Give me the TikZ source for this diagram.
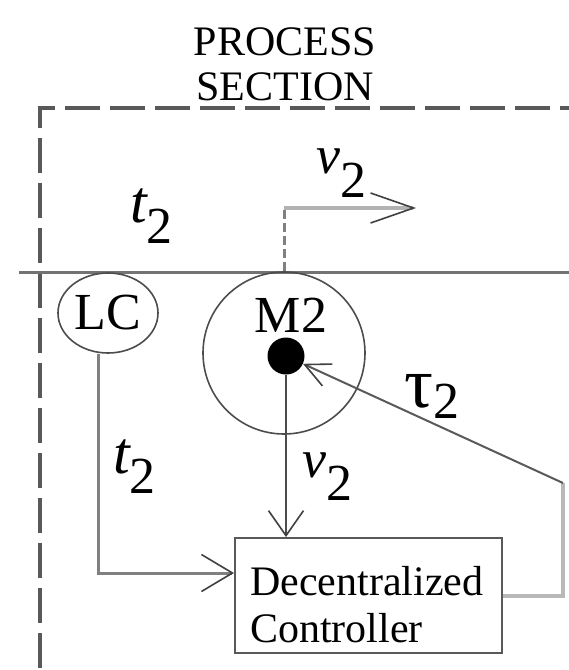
\documentclass[tikz,border=0pt]{standalone}
\usepackage{fontspec}
\setmainfont{Liberation Serif}
\usetikzlibrary{shapes.geometric, arrows.meta, calc, positioning}

% symbol with a full size, lowered index 2
\newcommand{\symlab}[3]{{\fontsize{#2}{#2}\selectfont #1}\raisebox{-#3}{\fontsize{52}{52}\selectfont 2}}

\tikzset{
	ring/.style={draw=black!70, line width=1.6pt},
	ctrlbox/.style={draw=black!65, line width=2pt, minimum width=267pt, minimum height=115pt},
	barb/.style 2 args={-{Straight Barb[length=#1, width=#2, line width=1.6pt, color=black!75]}}
}

\begin{document}
\begin{tikzpicture}[x=1pt, y=-1pt, every node/.style={inner sep=0pt, font=\fontsize{42}{47}\selectfont}]
			\useasboundingbox (0,0) rectangle (569,670);
			
			% Section Frame
			\draw[black!65, line width=3.5pt, dash pattern=on 35pt off 10pt, dash phase=43pt] (40,670) -- (40,108) -- (569,108);
			\node[align=center, font=\fontsize{42}{45}\selectfont, anchor=base] (title) at (285,100) {PROCESS\\SECTION};
			
			% Pipe Wall
			\draw[black!55, line width=3pt] (19,272) -- (569,272);
			
			% Sensor and Motor
			\node[ellipse, ring, minimum width=100pt, minimum height=80pt, font=\fontsize{52}{52}\selectfont] (lc) at (108,313) {LC};
			\node[circle, ring, minimum size=162pt] (m2) at (284,353) {};
			\node[font=\fontsize{52}{52}\selectfont, anchor=base] (m2lab) at (291,332) {M2};
			\node[circle, fill=black, minimum size=37pt] (dot) at (286,356) {};
			
			% Controller
			\node[ctrlbox] (ctrl) at (368.5,595.5) {};
			\node[anchor=north west, align=left] (ctrltext) at (250,566) {Decentralized\\Controller};
			
			% Speed Output
			\coordinate (bend) at (m2.north |- 0,208);
			\coordinate (vtip) at (416,208);
			\draw[black!50, line width=3pt, dash pattern=on 9pt off 4pt] (m2.north) -- (bend);
			\draw[black!30, line width=4pt, barb={43pt}{30pt}] (bend) -- (vtip);
			
			% Signals
			\draw[black!50, line width=3pt, barb={31pt}{37pt}] ([xshift=-10pt]lc.south) |- ([yshift=22.5pt]ctrl.west);
			\draw[black!70, line width=2.5pt, barb={25pt}{35pt}] (dot) -- (dot |- ctrl.north);
			\coordinate (fb) at (563,483);
			\draw[black!28, line width=4pt] (ctrl.east) -| (fb);
			\draw[black!65, line width=2pt, barb={25pt}{24pt}] (fb) -- (dot);
			
			% Labels
			\node[anchor=base west] (tup) at (130,222) {\symlab{\itshape t}{60}{21pt}};
			\node[anchor=base west] (vup) at (316,173) {\symlab{\itshape v}{54}{24pt}};
			\node[anchor=base west] (tlow) at (113,473) {\symlab{\itshape t}{60}{20pt}};
			\node[anchor=base west] (vlow) at (302,477) {\symlab{\itshape v}{54}{23pt}};
			\node[anchor=base west] (tau) at (404,407) {\symlab{τ}{72}{11pt}};
		\end{tikzpicture}
\end{document}
